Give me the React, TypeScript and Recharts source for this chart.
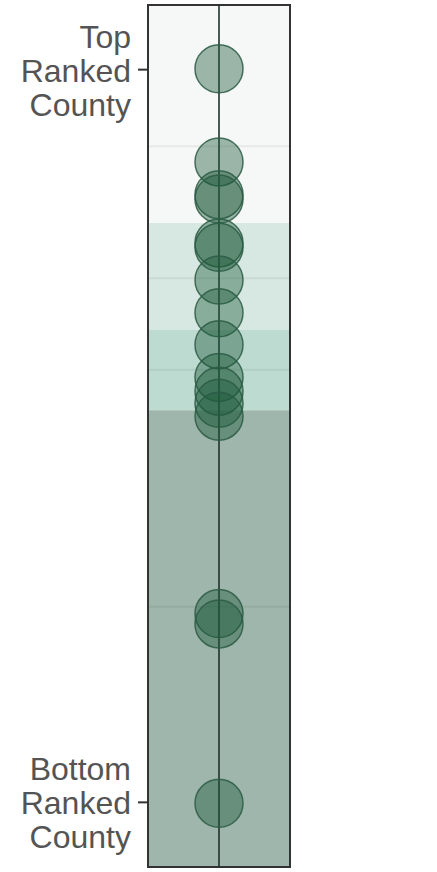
import React from 'react';
import { ComposedChart, Scatter, XAxis, YAxis, ReferenceArea, ReferenceLine } from 'recharts';

// county scores (0 = top of strip, 100 = bottom)
const countyScores = [7.4, 18.2, 22.0, 22.5, 27.6, 28.1, 31.9, 35.7, 39.4, 43.2, 44.8, 46.2, 47.7, 70.6, 71.8, 92.6];

const leftTicks = [7.5, 92.5];
const leftLabels = [["Top", "Ranked", "County"], ["Bottom", "Ranked", "County"]];

const rightTicks = [16.4, 31.7, 42.3, 69.8];
const rightLabels = [["Ranks", "1 to 4"], ["Ranks", "5 to 8"], ["Ranks", "9 to 12"], ["Ranks", "13 to 16"]];

const bandStarts = [0, 25.3, 37.7, 47.0];
const bandEnds = [25.3, 37.7, 47.0, 100];
const bandColors = ["#f5f8f7", "#d6e8e1", "#bddbd0", "#9eb6ab"];

const data = countyScores.map((s) => ({ x: 0.5, y: s }));

const FONT = "'Liberation Sans', Arial, sans-serif";
const TEXT = "#545454";

const LeftTick = (props: any) => {
  const { y, payload } = props;
  const idx = leftTicks.indexOf(payload.value);
  const lines = leftLabels[idx] || [];
  return (
    <text x={131} y={y} textAnchor="end" fontFamily={FONT} fontSize={32} fill={TEXT}>
      {lines.map((l: string, i: number) => (
        <tspan key={i} x={131} y={y + 12 + (i - 1) * 34}>{l}</tspan>
      ))}
    </text>
  );
};

const RightTick = (props: any) => {
  const { y, payload } = props;
  const idx = rightTicks.indexOf(payload.value);
  const lines = rightLabels[idx] || [];
  return (
    <text x={309} y={y} textAnchor="start" fontFamily={FONT} fontSize={32} fill={TEXT}>
      {lines.map((l: string, i: number) => (
        <tspan key={i} x={309} y={y - 3 + i * 33}>{l}</tspan>
      ))}
    </text>
  );
};

const Dot = (props: any) => {
  const { cx, cy } = props;
  return (
    <circle cx={cx} cy={cy} r={24} fill="#1e5a3c" fillOpacity={0.42} stroke="#2b5a44" strokeOpacity={0.85} strokeWidth={1.5} />
  );
};

export default function App() {
  return (
    <div style={{ position: 'absolute', left: 0, top: 0, background: '#fff' }}>
      <ComposedChart width={437} height={872} data={data} margin={{ top: 5, bottom: 5, left: 0, right: 0 }}>
        <XAxis dataKey="x" type="number" domain={[0, 1]} hide />
        <YAxis
          yAxisId="l"
          type="number"
          domain={[0, 100]}
          reversed
          width={148}
          ticks={leftTicks}
          interval={0}
          axisLine={false}
          tickSize={10}
          tickLine={{ stroke: '#333', strokeWidth: 2 }}
          tick={LeftTick}
        />
        <YAxis
          yAxisId="r"
          orientation="right"
          type="number"
          domain={[0, 100]}
          reversed
          width={147}
          ticks={rightTicks}
          interval={0}
          axisLine={false}
          tickSize={10}
          tickLine={{ stroke: '#333', strokeWidth: 2 }}
          tick={RightTick}
        />
        {bandStarts.map((s, i) => (
          <ReferenceArea key={'b' + i} yAxisId="l" x1={0} x2={1} y1={s} y2={bandEnds[i]} fill={bandColors[i]} fillOpacity={1} stroke="none" ifOverflow="extendDomain" />
        ))}
        {rightTicks.map((t, i) => (
          <ReferenceLine key={'g' + i} yAxisId="l" y={t} stroke="#000" strokeOpacity={0.06} strokeWidth={2} />
        ))}
        <Scatter yAxisId="l" dataKey="y" shape={Dot} isAnimationActive={false} />
        <ReferenceLine yAxisId="l" x={0.5} stroke="#1f332a" strokeOpacity={0.8} strokeWidth={2} />
        <ReferenceArea yAxisId="l" x1={0} x2={1} y1={0} y2={100} fill="none" stroke="#333" strokeWidth={2} />
      </ComposedChart>
    </div>
  );
}
